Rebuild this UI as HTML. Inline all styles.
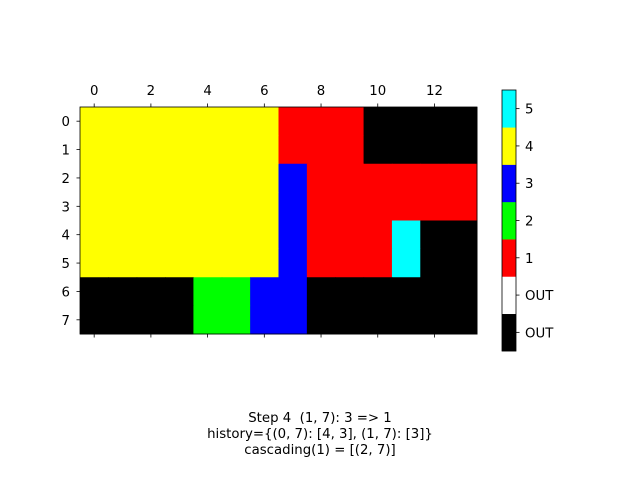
<!DOCTYPE html>
<html><head><meta charset="utf-8"><style>
body{margin:0;background:#fff;}
svg{display:block;font-family:"DejaVu Sans","Liberation Sans",sans-serif;}
text{white-space:pre;}
</style></head><body>
<svg id="chart" width="640" height="480">
<g id="grid"></g>
<g id="axes"></g>
<g id="cbar"></g>
<text x="320" y="422" text-anchor="middle" font-size="13.3">Step 4  (1, 7): 3 =&gt; 1</text>
<text x="320" y="438" text-anchor="middle" font-size="13.3">history={(0, 7): [4, 3], (1, 7): [3]}</text>
<text x="320" y="454" text-anchor="middle" font-size="13.3">cascading(1) = [(2, 7)]</text>
</svg>
<script>
const gridRows = [
 [4,4,4,4,4,4,4,1,1,1,-2,-2,-2,-2],
 [4,4,4,4,4,4,4,1,1,1,-2,-2,-2,-2],
 [4,4,4,4,4,4,4,3,1,1,1,1,1,1],
 [4,4,4,4,4,4,4,3,1,1,1,1,1,1],
 [4,4,4,4,4,4,4,3,1,1,1,5,-2,-2],
 [4,4,4,4,4,4,4,3,1,1,1,5,-2,-2],
 [-2,-2,-2,-2,2,2,3,3,-2,-2,-2,-2,-2,-2],
 [-2,-2,-2,-2,2,2,3,3,-2,-2,-2,-2,-2,-2]
];
const cbarLevels = [-2,-1,1,2,3,4,5];
const cbarLabels = ["OUT","OUT","1","2","3","4","5"];
const cbarColors = ["#000000","#ffffff","#ff0000","#00ff00","#0000ff","#ffff00","#00ffff"];
const xTicks = [0,2,4,6,8,10,12];
const yTicks = [0,1,2,3,4,5,6,7];

const NS="http://www.w3.org/2000/svg";
function mk(t,a,p){const e=document.createElementNS(NS,t);for(const k in a)e.setAttribute(k,a[k]);p.appendChild(e);return e;}
const L=80,T=107,R=477,B=334;
const nR=gridRows.length,nC=gridRows[0].length;
const cw=(R-L)/nC,ch=(B-T)/nR;
const xS=c=>L+(c+0.5)*cw, yS=r=>T+(r+0.5)*ch;
const g=document.getElementById('grid');
gridRows.forEach((row,r)=>row.forEach((v,c)=>{
 const e=mk('rect',{x:xS(c)-cw/2,y:yS(r)-ch/2,width:cw+0.5,height:ch+0.5,fill:cbarColors[cbarLevels.indexOf(v)]},g);
 
 
}));
const ax=document.getElementById('axes');
mk('rect',{x:L,y:T,width:R-L,height:B-T,fill:'none',stroke:'#000','stroke-width':0.8},ax);
xTicks.forEach(t=>{
 const x=xS(t);
 mk('line',{x1:x,y1:T,x2:x,y2:T-3.5,stroke:'#000','stroke-width':0.8},ax);
 mk('line',{x1:x,y1:B,x2:x,y2:B+3.5,stroke:'#000','stroke-width':0.8},ax);
 const e=mk('text',{x:x,y:T-12,'text-anchor':'middle','font-size':13.3},ax);e.textContent=t;
 
 
});
yTicks.forEach(t=>{
 const y=yS(t);
 mk('line',{x1:L,y1:y,x2:L-3.5,y2:y,stroke:'#000','stroke-width':0.8},ax);
 const e=mk('text',{x:L-10,y:y+5,'text-anchor':'end','font-size':13.3},ax);e.textContent=t;
 
 
});
const cb=document.getElementById('cbar');
const cx=502,cwid=14,ctop=90,cbot=351,seg=(cbot-ctop)/cbarLevels.length;
cbarLevels.forEach((v,i)=>{
 const y0=cbot-(i+1)*seg;
 const e=mk('rect',{x:cx,y:y0,width:cwid,height:seg+0.3,fill:cbarColors[i]},cb);
 
 
 const yc=y0+seg/2;
 mk('line',{x1:cx+cwid,y1:yc,x2:cx+cwid+3.5,y2:yc,stroke:'#000','stroke-width':0.8},cb);
 const t=mk('text',{x:cx+cwid+9,y:yc+5,'font-size':13.3},cb);t.textContent=cbarLabels[i];
 
 
});
mk('rect',{x:cx,y:ctop,width:cwid,height:cbot-ctop,fill:'none',stroke:'#000','stroke-width':0.8},cb);
</script>
</body></html>
